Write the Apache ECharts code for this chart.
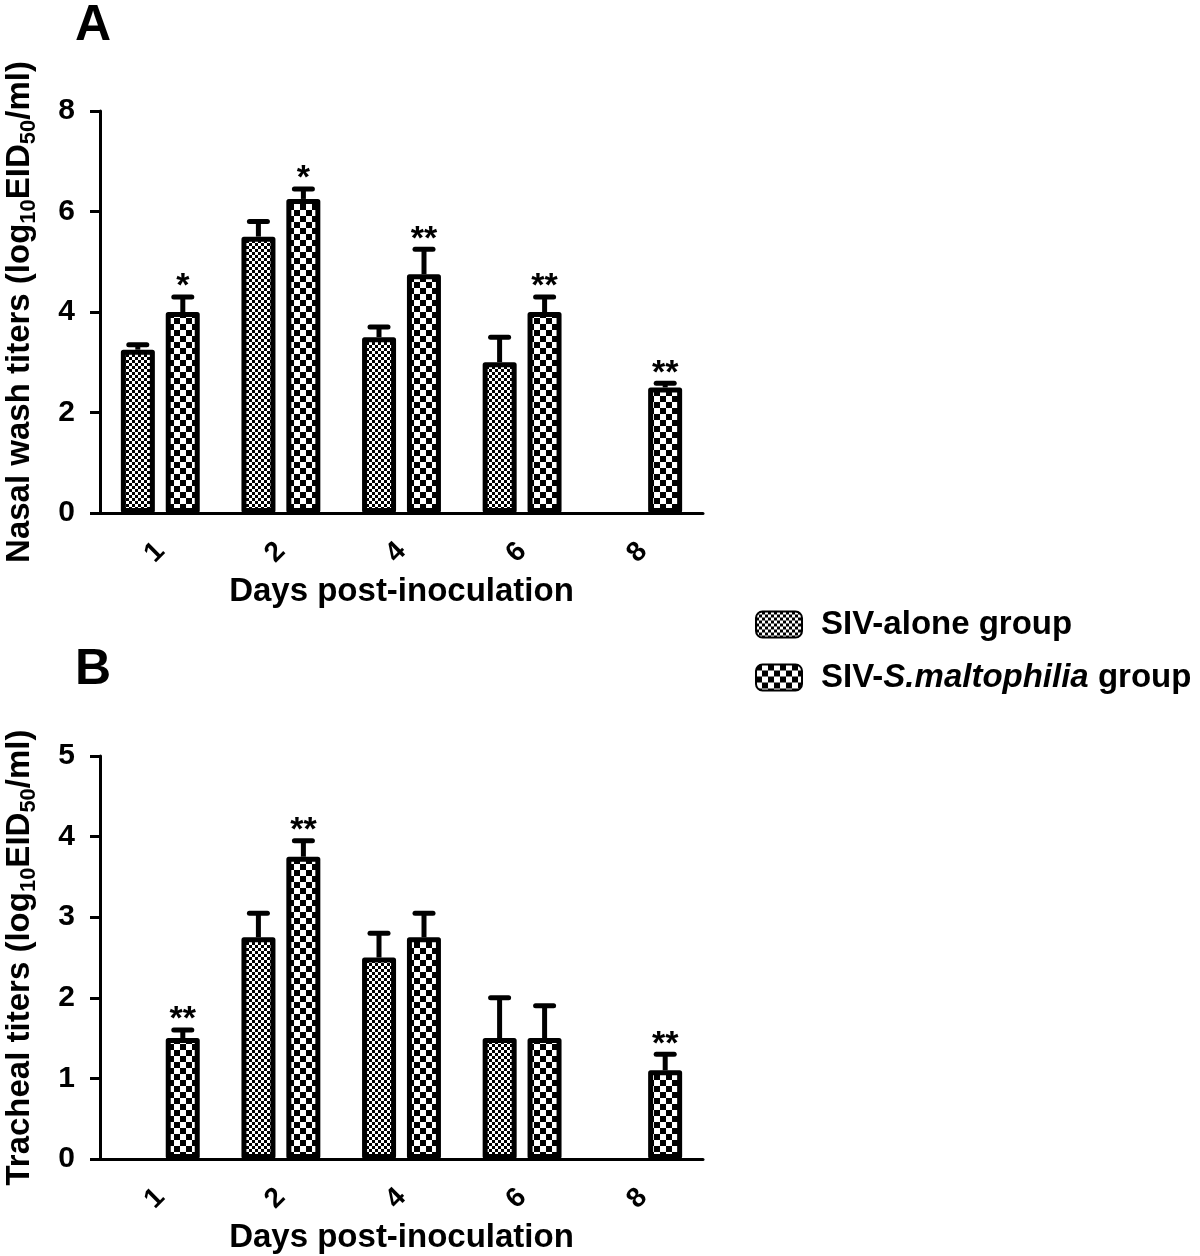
<!DOCTYPE html>
<html>
<head>
<meta charset="utf-8">
<script src="https://cdn.jsdelivr.net/npm/echarts@6/dist/echarts.min.js"></script>
<style>
html,body{margin:0;padding:0;background:#fff;overflow:hidden;}
#chart{width:1200px;height:1256px;}
</style>
</head>
<body>
<div id="chart"></div>
<script>
// ---- data ----
const categories = ['1', '2', '4', '6', '8'];
const seriesNames = ['SIV-alone group', 'SIV-S.maltophilia group'];

const nasalAlone    = [3.25, 5.5, 3.5, 3.0, null];
const nasalAloneErr = [0.1, 0.3, 0.2, 0.5, null];
const nasalSM       = [4.0, 6.25, 4.75, 4.0, 2.5];
const nasalSMErr    = [0.3, 0.2, 0.5, 0.3, 0.08];
const nasalSMStars  = ['*', '*', '**', '**', '**'];

const trachAlone    = [null, 2.75, 2.5, 1.5, null];
const trachAloneErr = [null, 0.3, 0.3, 0.5, null];
const trachSM       = [1.5, 3.75, 2.75, 1.5, 1.1];
const trachSMErr    = [0.1, 0.2, 0.3, 0.4, 0.2];
const trachSMStars  = ['**', '**', '', '', '**'];

const nasalTicks = [0, 2, 4, 6, 8];
const trachTicks = [0, 1, 2, 3, 4, 5];

// ---- patterns ----
function checker(cell) {
  const c = document.createElement('canvas');
  c.width = cell * 2; c.height = cell * 2;
  const g = c.getContext('2d');
  g.fillStyle = '#fff'; g.fillRect(0, 0, c.width, c.height);
  g.fillStyle = '#000';
  g.fillRect(0, 0, cell, cell);
  g.fillRect(cell, cell, cell, cell);
  return c;
}
const finePattern = { image: checker(3), repeat: 'repeat' };
const coarsePattern = { image: checker(6), repeat: 'repeat' };

const FONT = 'Liberation Sans, Arial, Helvetica, sans-serif';
const BAR_W = 34;
const OFFSET = 22.5;

function barSeries(name, data, gi, pattern) {
  return {
    type: 'bar', name: name, xAxisIndex: gi, yAxisIndex: gi,
    data: data, barWidth: BAR_W, barGap: '32%',
    itemStyle: { color: pattern, borderColor: '#000', borderWidth: 5, borderJoin: 'round' },
    emphasis: { disabled: true }, silent: true
  };
}

function errSeries(vals, errs, stars, gi, side) {
  const data = vals.map((v, i) => [i, v, errs[i], stars ? stars[i] : '']);
  return {
    type: 'custom', xAxisIndex: gi, yAxisIndex: gi, silent: true, z: 5,
    data: data.filter(d => d[1] != null),
    renderItem: function (params, api) {
      const i = api.value(0), v = api.value(1), e = api.value(2);
      const star = data.find(d => d[0] === i)[3];
      const p0 = api.coord([i, v]);
      const p1 = api.coord([i, v + e]);
      const x = p0[0] + side * OFFSET;
      const children = [
        { type: 'line', shape: { x1: x, y1: p0[1], x2: x, y2: p1[1] },
          style: { stroke: '#000', lineWidth: 5 } },
        { type: 'line', shape: { x1: x - 9, y1: p1[1], x2: x + 9, y2: p1[1] },
          style: { stroke: '#000', lineWidth: 5, lineCap: 'round' } }
      ];
      if (star) {
        children.push({ type: 'text', x: x, y: p1[1] - 10,
          style: { text: star, font: 'bold 34px ' + FONT, fill: '#000',
                   align: 'center', verticalAlign: 'middle' } });
      }
      return { type: 'group', children: children };
    }
  };
}

function yName(base) {
  return '{n|' + base + ' (log}{s|10}{n|EID}{s|50}{n|/ml)}';
}
const nameRich = {
  n: { fontSize: 33, fontWeight: 'bold', fontFamily: FONT, color: '#000', lineHeight: 40, verticalAlign: 'middle' },
  s: { fontSize: 22, fontWeight: 'bold', fontFamily: FONT, color: '#000', lineHeight: 40, verticalAlign: 'bottom' }
};

function xAxis(gi) {
  return {
    type: 'category', gridIndex: gi, data: categories,
    axisLine: { lineStyle: { color: '#000', width: 3 } },
    axisTick: { alignWithLabel: true, length: 10, lineStyle: { color: '#000', width: 3 } },
    axisLabel: { rotate: 45, fontSize: 28, fontWeight: 'bold', fontFamily: FONT, color: '#000', margin: 34 },
    name: 'Days post-inoculation', nameLocation: 'middle', nameGap: 62,
    nameTextStyle: { fontSize: 33, fontWeight: 'bold', fontFamily: FONT, color: '#000' }
  };
}
function yAxis(gi, ticks, base) {
  return {
    type: 'value', gridIndex: gi, min: ticks[0], max: ticks[ticks.length - 1],
    interval: ticks[1] - ticks[0], splitLine: { show: false },
    axisLine: { show: true, lineStyle: { color: '#000', width: 3 } },
    axisTick: { show: true, length: 10, lineStyle: { color: '#000', width: 3 } },
    axisLabel: { fontSize: 30, fontWeight: 'bold', fontFamily: FONT, color: '#000', margin: 25 },
    name: yName(base), nameLocation: 'middle', nameGap: 60, nameRotate: 90,
    nameTextStyle: { rich: nameRich }
  };
}

const chart = echarts.init(document.getElementById('chart'), null, { renderer: 'canvas' });
chart.setOption({
  backgroundColor: '#fff',
  animation: false,
  grid: [
    { left: 100, width: 603, top: 111, height: 402, containLabel: false, outerBoundsMode: 'none' },
    { left: 100, width: 603, top: 756, height: 403, containLabel: false, outerBoundsMode: 'none' }
  ],
  xAxis: [xAxis(0), xAxis(1)],
  yAxis: [yAxis(0, nasalTicks, 'Nasal wash titers'), yAxis(1, trachTicks, 'Tracheal titers')],
  legend: {
    left: 750, top: 603, orient: 'vertical', itemWidth: 46, itemHeight: 26, itemGap: 20,
    data: seriesNames, selectedMode: false,
    formatter: function (n) {
      if (n === seriesNames[1]) return '{n|SIV-}{i|S.maltophilia}{n| group}';
      return '{n|' + n + '}';
    },
    textStyle: {
      padding: [0, 0, 0, 14],
      rich: {
        n: { fontSize: 33, fontWeight: 'bold', fontFamily: FONT, color: '#000', lineHeight: 36 },
        i: { fontSize: 33, fontWeight: 'bold', fontStyle: 'italic', fontFamily: FONT, color: '#000', lineHeight: 36 }
      }
    }
  },
  graphic: [
    { type: 'text', left: 75, top: 1, style: { text: 'A', font: 'bold 50px ' + FONT, fill: '#000' } },
    { type: 'text', left: 75, top: 645, style: { text: 'B', font: 'bold 50px ' + FONT, fill: '#000' } }
  ],
  series: [
    barSeries(seriesNames[0], nasalAlone, 0, finePattern),
    barSeries(seriesNames[1], nasalSM, 0, coarsePattern),
    barSeries(seriesNames[0], trachAlone, 1, finePattern),
    barSeries(seriesNames[1], trachSM, 1, coarsePattern),
    errSeries(nasalAlone, nasalAloneErr, null, 0, -1),
    errSeries(nasalSM, nasalSMErr, nasalSMStars, 0, 1),
    errSeries(trachAlone, trachAloneErr, null, 1, -1),
    errSeries(trachSM, trachSMErr, trachSMStars, 1, 1)
  ]
});
</script>
</body>
</html>
